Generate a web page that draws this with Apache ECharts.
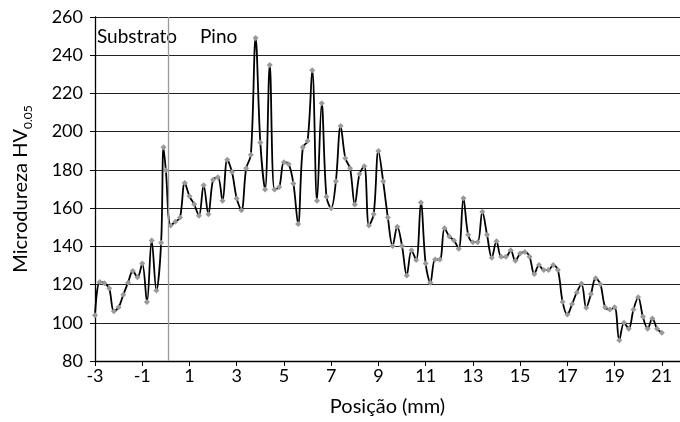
<!DOCTYPE html>
<html>
<head>
<meta charset="utf-8">
<script src="https://cdn.jsdelivr.net/npm/echarts@6/dist/echarts.min.js"></script>
<style>
html,body{margin:0;padding:0;background:#fff;}
#chart{width:680px;height:422px;}
</style>
</head>
<body>
<div id="chart"></div>
<script>
// Position (mm)
const positions = [
  -3, -2.8, -2.6, -2.4, -2.2, -2, -1.8, -1.6, -1.4, -1.2, -1, -0.8, -0.6, -0.4, -0.2, -0.1,
  0, 0.2, 0.4, 0.6, 0.8, 1, 1.2, 1.4, 1.6, 1.8, 2, 2.2, 2.4, 2.6, 2.8,
  3, 3.2, 3.4, 3.6, 3.8, 4, 4.2, 4.4, 4.6, 4.8, 5, 5.2, 5.4, 5.6, 5.8,
  6, 6.2, 6.4, 6.6, 6.8, 7, 7.2, 7.4, 7.6, 7.8, 8, 8.2, 8.4, 8.6, 8.8,
  9, 9.2, 9.4, 9.6, 9.8, 10, 10.2, 10.4, 10.6, 10.8, 11, 11.2, 11.4, 11.6, 11.8,
  12, 12.2, 12.4, 12.6, 12.8, 13, 13.2, 13.4, 13.6, 13.8, 14, 14.2, 14.4, 14.6, 14.8,
  15, 15.2, 15.4, 15.6, 15.8, 16, 16.2, 16.4, 16.6, 16.8, 17, 17.2, 17.4, 17.6, 17.8,
  18, 18.2, 18.4, 18.6, 18.8, 19, 19.2, 19.4, 19.6, 19.8, 20, 20.2, 20.4, 20.6, 20.8, 21
];
// Microhardness HV0.05
const hardness = [
  104.0, 121.4, 120.7, 118.1, 106.0, 108.1, 114.7, 121.0, 127.1, 123.8, 131.0, 110.9, 143.1, 116.9, 141.9, 191.8,
  179.8, 150.9, 152.9, 155.1, 173.2, 166.2, 162.0, 156.0, 172.0, 156.8, 174.9, 176.2, 163.8, 185.3, 178.9,
  165.0, 158.9, 180.8, 187.9, 249.0, 194.3, 169.8, 234.9, 169.8, 171.0, 184.0, 183.0, 172.9, 151.7, 191.8,
  195.1, 232.1, 163.8, 214.9, 166.0, 159.9, 174.1, 203.0, 186.1, 180.8, 161.9, 177.9, 181.9, 150.9, 156.8,
  189.9, 174.1, 155.1, 140.2, 150.3, 140.2, 124.8, 137.9, 132.8, 162.9, 131.0, 121.0, 133.1, 133.1, 149.5,
  145.2, 143.1, 138.8, 165.1, 146.0, 142.2, 142.2, 158.1, 146.0, 134.0, 142.7, 134.5, 134.5, 137.9, 132.4,
  136.2, 137.1, 134.5, 125.5, 130.2, 127.6, 127.6, 130.2, 127.6, 110.9, 104.3, 109.8, 115.9, 120.4, 107.8,
  115.0, 123.3, 120.2, 108.1, 106.9, 108.1, 90.9, 100.0, 96.9, 106.9, 113.3, 103.1, 96.9, 102.3, 96.9, 94.8
];
const xTickLabels = [-3, -1, 1, 3, 5, 7, 9, 11, 13, 15, 17, 19, 21];
const yTickLabels = [80, 100, 120, 140, 160, 180, 200, 220, 240, 260];
const interfacePos = 0.1;
const regionLabels = ['Substrato', 'Pino'];

const FONT = 'Lato';
const chart = echarts.init(document.getElementById('chart'), null, {renderer: 'canvas'});
const data = positions.map((x, i) => [x, hardness[i]]);

chart.setOption({
  animation: false,
  backgroundColor: '#fff',
  grid: {left: 95, right: 0, top: 17, bottom: 57, containLabel: false},
  xAxis: {
    type: 'value',
    min: -3, max: 21.77, interval: 2,
    name: 'Posição (mm)',
    nameLocation: 'middle', nameGap: 36,
    nameTextStyle: {fontFamily: FONT, fontSize: 20, color: '#000'},
    axisLine: {show: true, onZero: false, lineStyle: {color: '#000', width: 1.3}},
    axisTick: {show: true, length: 5, lineStyle: {color: '#000'}},
    splitLine: {show: false},
    axisLabel: {
      fontFamily: FONT, fontSize: 18, color: '#000', margin: 6,
      showMaxLabel: false,
      formatter: v => xTickLabels.some(t => Math.abs(t - v) < 1e-6) ? String(Math.round(v)) : ''
    }
  },
  yAxis: {
    type: 'value',
    min: yTickLabels[0], max: yTickLabels[yTickLabels.length - 1], interval: 20,
    name: '{a|Microdureza HV}{b|0.05}',
    nameLocation: 'middle', nameGap: 64,
    nameTextStyle: {
      fontFamily: FONT, color: '#000',
      rich: {
        a: {fontFamily: FONT, fontSize: 20, color: '#000', lineHeight: 24, verticalAlign: 'bottom'},
        b: {fontFamily: FONT, fontSize: 12, color: '#000', lineHeight: 24, verticalAlign: 'bottom', padding: [0, 0, -3, 0]}
      }
    },
    axisLine: {show: true, onZero: false, lineStyle: {color: '#000', width: 1.3}},
    axisTick: {show: true, length: 5, lineStyle: {color: '#000'}},
    splitLine: {show: true, lineStyle: {color: '#222', width: 1.2}},
    axisLabel: {fontFamily: FONT, fontSize: 18, color: '#000', margin: 12}
  },
  graphic: [
    {type: 'text', left: 97, top: 27, style: {text: regionLabels[0], font: '19px ' + FONT, fill: '#000'}},
    {type: 'text', left: 200, top: 27, style: {text: regionLabels[1], font: '19px ' + FONT, fill: '#000'}}
  ],
  series: [{
    type: 'line',
    data: data,
    smooth: 0.35,
    symbol: 'diamond',
    symbolSize: 6,
    lineStyle: {color: '#000', width: 1.8},
    itemStyle: {color: '#999'},
    markLine: {
      silent: true,
      symbol: 'none',
      label: {show: false},
      lineStyle: {color: '#999', width: 1.3, type: 'solid'},
      data: [{xAxis: interfacePos}]
    }
  }]
});
</script>
</body>
</html>
